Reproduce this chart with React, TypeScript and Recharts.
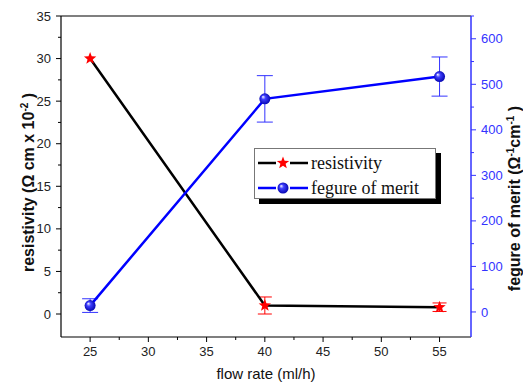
import React from 'react';
import { ComposedChart, Line, XAxis, YAxis, ErrorBar, ReferenceLine } from 'recharts';

// values
const flowRates = [25, 40, 55];
const resistivity = [30, 1.0, 0.8];
const resistivityErr = [0, 1.0, 0.5];
const meritFigure = [14, 468, 517];
const meritErr = [15, 51, 43];

// major ticks are labelled, the in-between ones are minor
const xTicks = [25, 27.5, 30, 32.5, 35, 37.5, 40, 42.5, 45, 47.5, 50, 52.5, 55];
const leftTicks = [0, 2.5, 5, 7.5, 10, 12.5, 15, 17.5, 20, 22.5, 25, 27.5, 30, 32.5, 35];
const rightTicks = [0, 50, 100, 150, 200, 250, 300, 350, 400, 450, 500, 550, 600, 650];

const data = flowRates.map((flow, i) => ({
  flow,
  res: resistivity[i],
  resErr: resistivityErr[i],
  fom: meritFigure[i],
  fomErr: meritErr[i],
}));

const tickFont = { fontFamily: '"Liberation Sans", Arial, sans-serif', fontSize: 13 };
const BLUE = '#3333ff';

const starPoints = (cx: number, cy: number, r: number) => {
  const pts: string[] = [];
  for (let i = 0; i < 10; i++) {
    const rad = i % 2 === 0 ? r : r * 0.42;
    const a = -Math.PI / 2 + (i * Math.PI) / 5;
    pts.push(`${cx + rad * Math.cos(a)},${cy + rad * Math.sin(a)}`);
  }
  return pts.join(' ');
};

const StarDot = (props: any) => {
  const { cx, cy, index } = props;
  if (cx == null || cy == null) return null;
  return <polygon key={`s${index}`} points={starPoints(cx, cy, 6.5)} fill="#ff0000" />;
};

const SphereDefs = ({ id }: { id: string }) => (
  <defs>
    <radialGradient id={id} cx="50%" cy="50%" r="55%" fx="32%" fy="30%">
      <stop offset="0%" stopColor="#ffffff" />
      <stop offset="35%" stopColor="#4040ff" />
      <stop offset="100%" stopColor="#0000a8" />
    </radialGradient>
  </defs>
);

const SphereDot = (props: any) => {
  const { cx, cy, index } = props;
  if (cx == null || cy == null) return null;
  return (
    <g key={`b${index}`}>
      <SphereDefs id="sphereGrad" />
      <circle cx={cx} cy={cy} r={5.5} fill="url(#sphereGrad)" />
    </g>
  );
};

const isMajor = (v: number, step: number) => Math.abs(v / step - Math.round(v / step)) < 1e-6;

const LeftTick = (props: any) => {
  const { x, y, payload } = props;
  const major = isMajor(payload.value, 5);
  return (
    <g>
      <line x1={x} x2={x - (major ? 5 : 3)} y1={y} y2={y} stroke="#000" strokeWidth={1} />
      {major && (
        <text x={x - 10} y={y} dy="0.35em" textAnchor="end" fill="#222" {...tickFont}>
          {payload.value}
        </text>
      )}
    </g>
  );
};

const RightTick = (props: any) => {
  const { x, y, payload } = props;
  const major = isMajor(payload.value, 100);
  return (
    <g>
      <line x1={x} x2={x + (major ? 5 : 3)} y1={y} y2={y} stroke={BLUE} strokeWidth={1} />
      {major && (
        <text x={x + 10} y={y} dy="0.35em" textAnchor="start" fill={BLUE} {...tickFont}>
          {payload.value}
        </text>
      )}
    </g>
  );
};

const BottomTick = (props: any) => {
  const { x, y, payload } = props;
  const major = isMajor(payload.value, 5);
  return (
    <g>
      <line x1={x} x2={x} y1={y} y2={y + (major ? 5 : 3)} stroke="#000" strokeWidth={1} />
      {major && (
        <text x={x} y={y + 10} dy="0.71em" textAnchor="middle" fill="#222" {...tickFont}>
          {payload.value}
        </text>
      )}
    </g>
  );
};

const titleFont = { fontFamily: '"Liberation Sans", Arial, sans-serif', fontSize: 16, fontWeight: 700 };

const LeftTitle = (props: any) => {
  const vb = props.viewBox;
  const x = vb.x + 28;
  const y = vb.y + vb.height / 2 + 6;
  return (
    <text x={x} y={y} transform={`rotate(-90 ${x} ${y})`} textAnchor="middle" dy="0.35em" fill="#111" {...titleFont}>
      resistivity (Ω cm x 10
      <tspan dy={-6} fontSize={10}>-2</tspan>
      <tspan dy={6}> )</tspan>
    </text>
  );
};

const RightTitle = (props: any) => {
  const vb = props.viewBox;
  const x = vb.x + 43;
  const y = vb.y + vb.height / 2 + 22;
  return (
    <text x={x} y={y} transform={`rotate(-90 ${x} ${y})`} textAnchor="middle" dy="0.35em" fill="#111" {...titleFont}>
      fegure of merit (Ω
      <tspan dy={-6} fontSize={10}>-1</tspan>
      <tspan dy={6}>cm</tspan>
      <tspan dy={-6} fontSize={10}>-1</tspan>
      <tspan dy={6}> )</tspan>
    </text>
  );
};

const legendText = { fontFamily: '"Liberation Serif", "Times New Roman", serif', fontSize: 18, color: '#111' };

const ChartLegend = () => (
  <div
    style={{
      position: 'absolute',
      left: 254,
      top: 148,
      width: 180,
      height: 49,
      background: '#fff',
      border: '1px solid #777',
      boxShadow: '5px 5px 0 #000',
    }}
  >
    <div style={{ position: 'absolute', left: 3, top: 3, display: 'flex', alignItems: 'center', height: 22 }}>
      <svg width={50} height={14}>
        <line x1={0} x2={50} y1={7} y2={7} stroke="#000" strokeWidth={2.5} />
        <rect x={18} y={0} width={14} height={14} fill="#fff" />
        <polygon points={starPoints(25, 7, 6.5)} fill="#ff0000" />
      </svg>
      <span style={{ ...legendText, marginLeft: 3 }}>resistivity</span>
    </div>
    <div style={{ position: 'absolute', left: 3, top: 28, display: 'flex', alignItems: 'center', height: 22 }}>
      <svg width={50} height={14}>
        <SphereDefs id="legendSphere" />
        <line x1={0} x2={50} y1={7} y2={7} stroke="#0000ff" strokeWidth={2.5} />
        <rect x={18} y={0} width={14} height={14} fill="#fff" />
        <circle cx={25} cy={7} r={5.5} fill="url(#legendSphere)" />
      </svg>
      <span style={{ ...legendText, marginLeft: 3 }}>fegure of merit</span>
    </div>
  </div>
);

export default function App() {
  return (
    <div style={{ position: 'absolute', left: 0, top: 0, width: 523, height: 383, background: '#fff' }}>
      <ComposedChart width={523} height={383} data={data} margin={{ top: 16, right: 0, bottom: 0, left: 0 }}>
        <XAxis
          dataKey="flow"
          type="number"
          domain={[22.5, 57.7]}
          ticks={xTicks}
          interval={0}
          allowDataOverflow
          height={46}
          tickSize={0}
          tickMargin={0}
          tickLine={false}
          tick={<BottomTick />}
          stroke="#000"
          strokeWidth={1.2}
          label={{
            value: 'flow rate (ml/h)',
            position: 'insideBottom',
            offset: 4,
            fill: '#111',
            style: { fontFamily: '"Liberation Sans", Arial, sans-serif', fontSize: 15 },
          }}
        />
        <YAxis
          yAxisId="left"
          orientation="left"
          type="number"
          domain={[-2.7, 35]}
          ticks={leftTicks}
          interval={0}
          allowDataOverflow
          width={61}
          tickSize={0}
          tickMargin={0}
          tickLine={false}
          tick={<LeftTick />}
          stroke="#000"
          strokeWidth={1.2}
          label={<LeftTitle />}
        />
        <YAxis
          yAxisId="right"
          orientation="right"
          type="number"
          domain={[-55, 650]}
          ticks={rightTicks}
          interval={0}
          allowDataOverflow
          width={52}
          tickSize={0}
          tickMargin={0}
          tickLine={false}
          tick={<RightTick />}
          stroke={BLUE}
          strokeWidth={1.5}
          label={<RightTitle />}
        />
        <ReferenceLine yAxisId="left" y={35} stroke="#000" strokeWidth={1.2} />
        <Line
          yAxisId="left"
          dataKey="res"
          type="linear"
          stroke="#000"
          strokeWidth={2.5}
          dot={<StarDot />}
          activeDot={false}
          isAnimationActive={false}
        >
          <ErrorBar dataKey="resErr" direction="y" width={7} stroke="#ff0000" strokeWidth={1} isAnimationActive={false} />
        </Line>
        <Line
          yAxisId="right"
          dataKey="fom"
          type="linear"
          stroke="#0000ff"
          strokeWidth={2.5}
          dot={<SphereDot />}
          activeDot={false}
          isAnimationActive={false}
        >
          <ErrorBar dataKey="fomErr" direction="y" width={8} stroke={BLUE} strokeWidth={1} isAnimationActive={false} />
        </Line>
      </ComposedChart>
      <ChartLegend />
    </div>
  );
}
